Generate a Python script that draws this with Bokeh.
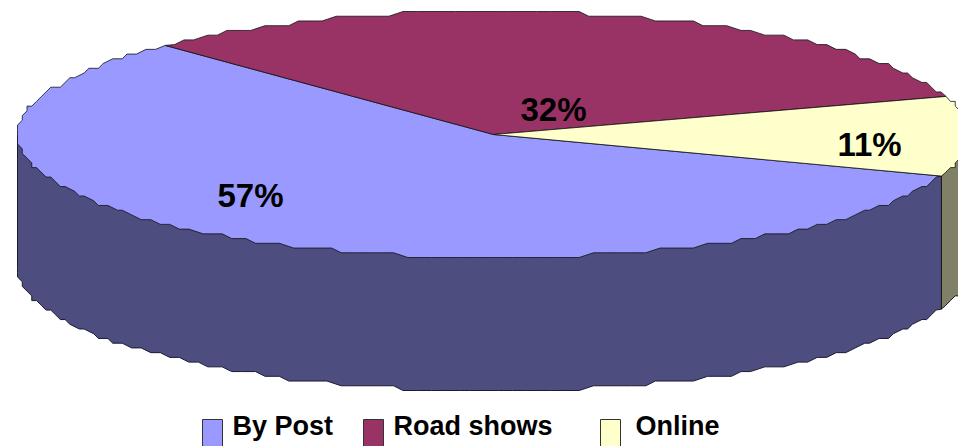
import numpy as np
from bokeh.plotting import figure
from bokeh.models import Range1d
from bokeh.embed import file_html
from bokeh.resources import INLINE
from bokeh.core.properties import value

categories = ["By Post", "Road shows", "Online"]
shares = [57.4, 32.1, 10.5]
labels = ["57%", "32%", "11%"]
top_colors = ["#9999FF", "#993366", "#FFFFCC"]
side_colors = ["#4D4D80", "#4D1A33", "#808066"]

W, H = 958, 446
p = figure(width=W, height=H, output_backend="svg", toolbar_location=None,
           x_range=Range1d(0, W), y_range=Range1d(H, 0),
           min_border=0, outline_line_color=None)
p.axis.visible = False
p.grid.visible = False
p.background_fill_color = "white"

CX, CY, RX, RY, DEPTH = 493, 134, 476, 123, 133
START = 133.6
STEP_X = RX / 100
STEP_Y = RY / 26


def rim(a0, a1, dy=0.0):
    """Faceted rim between two angles."""
    n = max(2, int(abs(a1 - a0) / 1.6))
    a = np.radians(np.linspace(a0, a1, n))
    x = CX + RX * np.cos(a)
    y = CY - RY * np.sin(a)
    xq = CX + np.round((x - CX) / STEP_X) * STEP_X
    yq = CY + np.round((y - CY) / STEP_Y) * STEP_Y
    xq[0], yq[0], xq[-1], yq[-1] = x[0], y[0], x[-1], y[-1]
    return xq, yq + dy


# slice angular extents, from the values
total = sum(shares)
ext = [s / total * 360 for s in shares]
post = (START, START + ext[0])
road = (START - ext[1], START)
online = (road[0] - ext[2], road[0])

# side walls: the upper edge is hidden by the top faces drawn afterwards
a, b = 180, post[1]
bx, by = rim(a, b, DEPTH)
p.patch(np.r_[CX + RX * np.cos(np.radians(b)), CX - RX, bx],
        np.r_[CY - RY * np.sin(np.radians(b)), CY, by],
        fill_color=side_colors[0], line_color="#1a1a33", line_width=1)
bx, by = rim(online[0], 0, DEPTH)
p.patch(np.r_[CX + RX, CX + RX * np.cos(np.radians(online[0])), bx],
        np.r_[CY, CY - RY * np.sin(np.radians(online[0])), by],
        fill_color=side_colors[2], line_color="#1a1a1a", line_width=1)

# top faces
for (a0, a1), col in zip([post, road, online], top_colors):
    rx_, ry_ = rim(a0, a1)
    p.patch(np.r_[CX, rx_], np.r_[CY, ry_], fill_color=col,
            line_color="#111111", line_width=0.8)

# percentage labels
lx = [250, 553, 869]
ly = [195, 109, 144]
p.text(lx, ly, text=labels, text_font=value("Liberation Sans"),
       text_font_style="bold", text_font_size="33px", text_color="black",
       text_align="center", text_baseline="middle")

# legend
sx = [202, 363, 600]
tx_ = [232, 393, 635]
p.quad(left=sx, right=[s + 20 for s in sx], top=[419] * 3, bottom=[447] * 3,
       fill_color=top_colors, line_color="#333333", line_width=1)
p.text(tx_, [425] * 3, text=categories, text_font=value("Liberation Sans"),
       text_font_style="bold", text_font_size="27px", text_color="black",
       text_align="left", text_baseline="middle")

open("out.html", "w").write(file_html(p, INLINE))
